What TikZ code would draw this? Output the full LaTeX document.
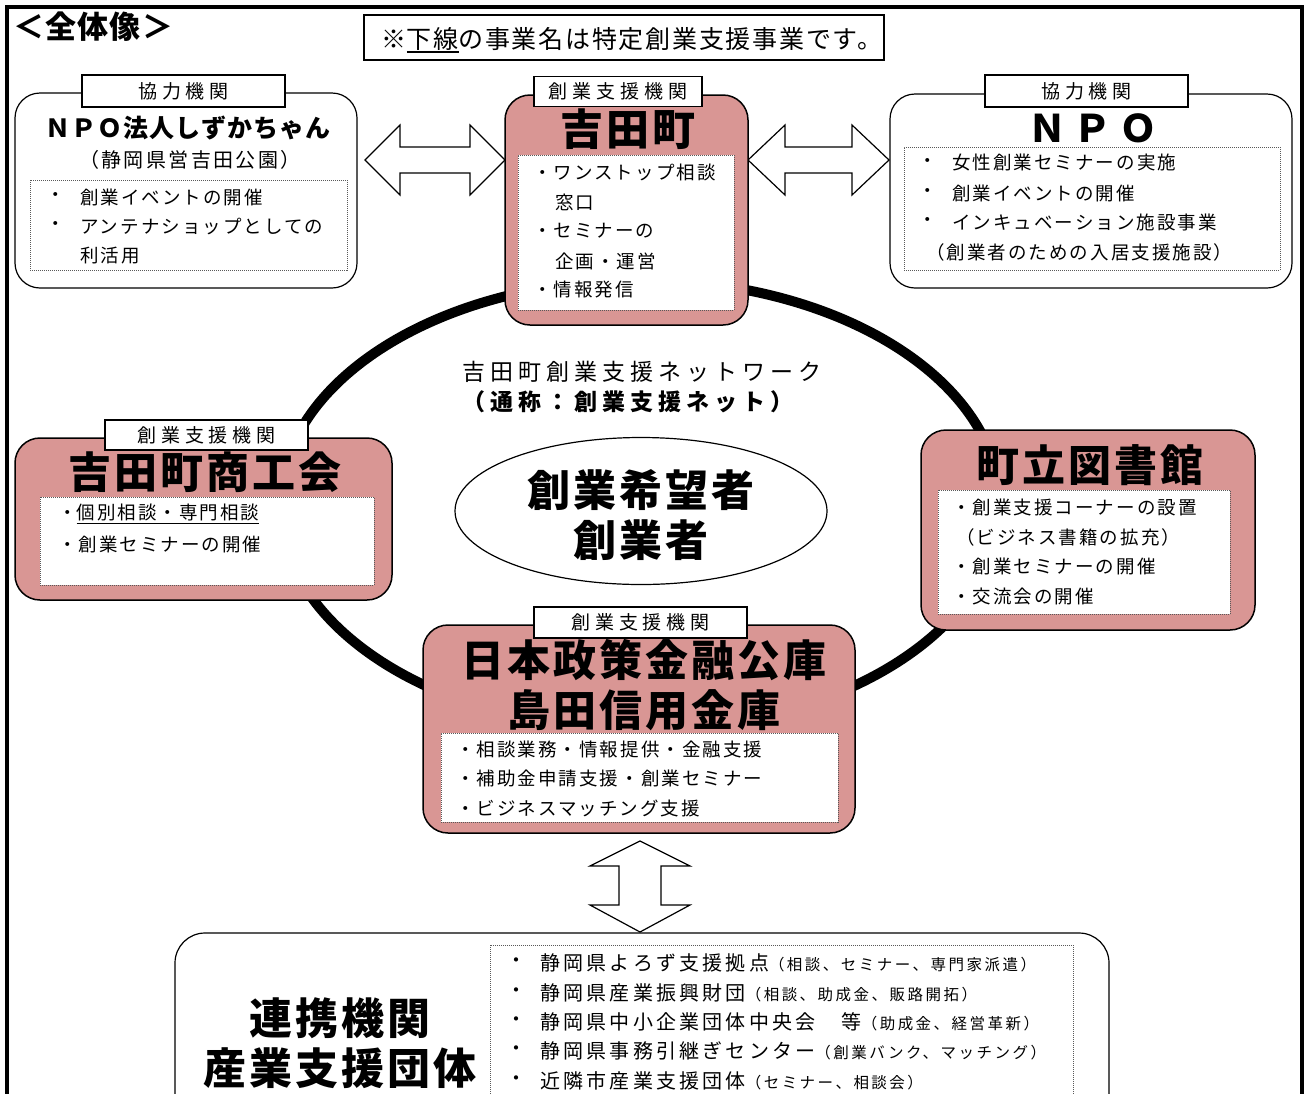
\documentclass[tikz,border=0pt]{standalone}
\usepackage{fontspec}
\usetikzlibrary{shapes.geometric}
\newfontfamily\jpa[LetterSpace=11]{Noto Sans CJK JP}
\newfontfamily\jpl[LetterSpace=26]{Noto Sans CJK JP}
\newfontfamily\jpt[LetterSpace=7]{Noto Sans CJK JP}
\newfontfamily\jpn[LetterSpace=4]{Noto Sans CJK JP}
\newfontfamily\jpm[LetterSpace=7]{Noto Sans CJK JP}
\newfontfamily\jps[LetterSpace=12]{Noto Sans CJK JP}
\newfontfamily\jpo[LetterSpace=20]{Noto Sans CJK JP}
\newfontfamily\jpw[LetterSpace=22]{Noto Sans CJK JP}
\newfontfamily\jpb[LetterSpace=16]{Noto Sans CJK JP}
\definecolor{pinkc}{RGB}{217,150,148}
\newcommand\myul[2]{\setbox0\hbox{#2}\rlap{\rule[-4pt]{\wd0}{#1}}\box0}
\tikzset{
  pinkbox/.style={draw=black, line width=1.5, fill=pinkc, rounded corners=25, inner sep=0},
  wbox/.style={draw=black, line width=1.2, fill=white, rounded corners=25, inner sep=0},
  innerbox/.style={draw=gray!70!black, densely dotted, line width=1, fill=white, inner sep=0},
  lab/.style={draw=black, line width=1.3, fill=white, inner sep=0, font=\jpl\fontsize{19}{19}\selectfont},
  ttl/.style={inner sep=0, font=\jpt\bfseries\fontsize{43}{43}\selectfont},
  itm/.style={inner sep=0, anchor=west, font=\jpa\fontsize{18.5}{18.5}\selectfont},
  bitm/.style={inner sep=0, anchor=west, font=\jpb\fontsize{20}{20}\selectfont},
  blockarrow/.style={draw=black, line width=1.2, fill=white},
}
\newcommand\smallp[1]{{\fontsize{15.5}{15.5}\selectfont #1}}
\begin{document}
\begin{tikzpicture}[x=1pt,y=-1pt]
\useasboundingbox (0,0) rectangle (1305,1093);
\clip (0,0) rectangle (1305,1093);
\fill[white] (0,0) rectangle (1305,1093);
% outer frame
\draw[line width=4] (7,1110) -- (7,7) -- (1302,7) -- (1302,1110);
% title
\node[inner sep=0, anchor=west, font=\jpn\bfseries\fontsize{31}{31}\selectfont] (title) at (13,27) {＜全体像＞};
% note
\node[draw=black, line width=2, minimum width=520, minimum height=45, inner sep=0] (note) at (624,37.5) {};
\node[inner sep=0, font=\jpm\fontsize{25}{25}\selectfont] (notetext) at (632,40) {※\myul{1.5pt}{下線}の事業名は特定創業支援事業です。};
% ring
\draw[line width=10] (640,505) ellipse [x radius=360, y radius=225];
% arrows
\draw[blockarrow] (365,160) -- (400,125) -- (400,147) -- (470,147) -- (470,125) -- (505,160) -- (470,195) -- (470,173) -- (400,173) -- (400,195) -- cycle;
\draw[blockarrow] (748,160) -- (785,125) -- (785,147) -- (852,147) -- (852,125) -- (889,160) -- (852,195) -- (852,173) -- (785,173) -- (785,195) -- cycle;
\draw[blockarrow] (640,841) -- (690,866) -- (661,866) -- (661,905) -- (690,905) -- (640,932) -- (590,905) -- (619,905) -- (619,866) -- (590,866) -- cycle;

% ---- NPO shizuka (top left)
\node[wbox, minimum width=342, minimum height=195] (shizuka) at (186,190.5) {};
\node[lab, minimum width=203, minimum height=32] (shizukalab) at (183.5,91) {協力機関};
\node[inner sep=0, font=\jpn\bfseries\fontsize{25}{25}\selectfont] (shizukattl) at (188,128) {ＮＰＯ法人しずかちゃん};
\node[inner sep=0, font=\jps\fontsize{20}{20}\selectfont] (shizukasub) at (190,160) {（静岡県営吉田公園）};
\node[innerbox, minimum width=317, minimum height=90] (shizukain) at (188.5,225) {};
\node[itm] (s1b) at (46,197) {・};
\node[itm] (s1) at (80,197) {創業イベントの開催};
\node[itm] (s2b) at (46,226) {・};
\node[itm] (s2) at (80,226) {アンテナショップとしての};
\node[itm] (s3) at (80,256) {利活用};

% ---- Yoshida town (top center)
\node[pinkbox, minimum width=243, minimum height=230] (yoshida) at (626.5,210) {};
\node[lab, minimum width=168, minimum height=30] (yoshidalab) at (618,91.5) {創業支援機関};
\node[ttl] (yoshidattl) at (628,129) {吉田町};
\node[innerbox, minimum width=216, minimum height=155] (yoshidain) at (626,232.5) {};
\node[itm] (y1) at (533,172) {・ワンストップ相談};
\node[itm] (y2) at (555,202) {窓口};
\node[itm] (y3) at (533,231) {・セミナーの};
\node[itm] (y4) at (555,261) {企画・運営};
\node[itm] (y5) at (533,290) {・情報発信};

% ---- NPO (top right)
\node[wbox, minimum width=402, minimum height=194] (npo) at (1091,191) {};
\node[lab, minimum width=203, minimum height=32] (npolab) at (1086.5,91) {協力機関};
\node[inner sep=0, font=\jpo\bfseries\fontsize{38}{38}\selectfont] (npottl) at (1093,128) {ＮＰＯ};
\node[innerbox, minimum width=376, minimum height=123] (npoin) at (1092,208.5) {};
\node[itm] (n1b) at (918,163) {・};
\node[itm] (n1) at (952,163) {女性創業セミナーの実施};
\node[itm] (n2b) at (918,193) {・};
\node[itm] (n2) at (952,193) {創業イベントの開催};
\node[itm] (n3b) at (918,222) {・};
\node[itm] (n3) at (952,222) {インキュベーション施設事業};
\node[itm] (n4) at (926,252) {（創業者のための入居支援施設）};

% ---- Shokokai (left)
\node[pinkbox, minimum width=377, minimum height=162] (shoko) at (203.5,519) {};
\node[lab, minimum width=203, minimum height=30] (shokolab) at (206.5,435) {創業支援機関};
\node[ttl] (shokottl) at (205,472) {吉田町商工会};
\node[innerbox, minimum width=334, minimum height=88] (shokoin) at (207,541) {};
\node[itm] (k1) at (58,514) {・\myul{1pt}{個別相談・専門相談}};
\node[itm] (k2) at (58,544) {・創業セミナーの開催};

% ---- Library (right)
\node[pinkbox, minimum width=334, minimum height=200] (lib) at (1088,530) {};
\node[ttl] (libttl) at (1090,465) {町立図書館};
\node[innerbox, minimum width=292, minimum height=124] (libin) at (1084,552) {};
\node[itm] (l1) at (952,507) {・創業支援コーナーの設置};
\node[itm] (l2) at (956,537) {（ビジネス書籍の拡充）};
\node[itm] (l3) at (952,566) {・創業セミナーの開催};
\node[itm] (l4) at (952,596) {・交流会の開催};

% ---- centre
\node[inner sep=0, font=\jpw\fontsize{23}{23}\selectfont] (net1) at (642,372) {吉田町創業支援ネットワーク};
\node[inner sep=0, font=\jpw\bfseries\fontsize{23}{23}\selectfont] (net2) at (628,402) {（通称：創業支援ネット）};
\node[draw=black, line width=1.2, fill=white, ellipse, minimum width=372, minimum height=147, inner sep=0] (cand) at (641,511) {};
\node[ttl] (cand1) at (641,490) {創業希望者};
\node[ttl] (cand2) at (641,540) {創業者};

% ---- finance (bottom)
\node[pinkbox, minimum width=432, minimum height=208] (fin) at (639,729) {};
\node[lab, minimum width=213, minimum height=31] (finlab) at (640.5,622.5) {創業支援機関};
\node[ttl] (fin1) at (644,660) {日本政策金融公庫};
\node[ttl] (fin2) at (644,710) {島田信用金庫};
\node[innerbox, minimum width=397, minimum height=89] (finin) at (639.5,777.5) {};
\node[itm] (f1) at (456,749) {・相談業務・情報提供・金融支援};
\node[itm] (f2) at (456,778) {・補助金申請支援・創業セミナー};
\node[itm] (f3) at (456,808) {・ビジネスマッチング支援};

% ---- partner organisations (bottom)
\node[wbox, rounded corners=30, minimum width=934, minimum height=240] (ren) at (642,1053) {};
\node[ttl] (ren1) at (340,1018) {連携機関};
\node[ttl] (ren2) at (340,1068) {産業支援団体};
\node[innerbox, minimum width=583, minimum height=220] (renin) at (781.5,1055) {};
\node[bitm] (r1b) at (506,963) {・};
\node[bitm] (r1) at (540,963) {静岡県よろず支援拠点\smallp{（相談、セミナー、専門家派遣）}};
\node[bitm] (r2b) at (506,993) {・};
\node[bitm] (r2) at (540,993) {静岡県産業振興財団\smallp{（相談、助成金、販路開拓）}};
\node[bitm] (r3b) at (506,1022) {・};
\node[bitm] (r3) at (540,1022) {静岡県中小企業団体中央会　等\smallp{（助成金、経営革新）}};
\node[bitm] (r4b) at (506,1051) {・};
\node[bitm] (r4) at (540,1051) {静岡県事務引継ぎセンター\smallp{（創業バンク、マッチング）}};
\node[bitm] (r5b) at (506,1081) {・};
\node[bitm] (r5) at (540,1081) {近隣市産業支援団体\smallp{（セミナー、相談会）}};
\end{tikzpicture}
\end{document}
